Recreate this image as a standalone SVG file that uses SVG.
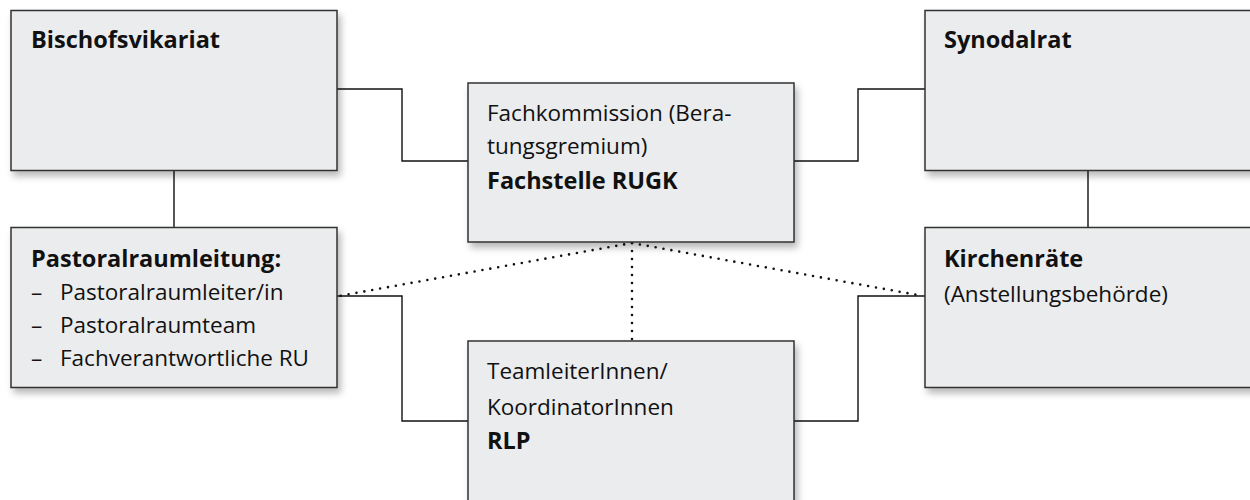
<svg xmlns="http://www.w3.org/2000/svg" width="1250" height="500" viewBox="0 0 1250 500">
<defs>
<filter id="sh" x="-10%" y="-10%" width="130%" height="140%">
<feDropShadow dx="3" dy="5" stdDeviation="3.5" flood-color="#000" flood-opacity="0.28"/>
</filter>
<style>
.box{fill:#ebeced;stroke:#333;stroke-width:1.5;filter:url(#sh)}
.ln{fill:none;stroke:#111;stroke-width:1.4}
.dot{fill:none;stroke:#111;stroke-width:2.6;stroke-dasharray:0 8;stroke-linecap:round}
text{font-family:"Open Sans","Noto Sans",sans-serif;font-size:22.5px;fill:#111}
.b{font-weight:bold;font-size:23.5px}
</style>
</defs>
<rect width="1250" height="500" fill="#fff"/>
<g id="connectors">
<polyline class="ln" points="337,89 402,89 402,161 468,161"/>
<polyline class="ln" points="794,161 858,161 858,89 925,89"/>
<line class="ln" x1="174" y1="170" x2="174" y2="228"/>
<line class="ln" x1="1088" y1="170" x2="1088" y2="228"/>
<polyline class="ln" points="337,296 402,296 402,421 468,421"/>
<polyline class="ln" points="794,421 858,421 858,296 925,296"/>
<line class="dot" x1="632" y1="243" x2="339" y2="296"/>
<line class="dot" x1="632" y1="243" x2="923" y2="296"/>
<line class="dot" x1="632" y1="243" x2="632" y2="340"/>
</g>
<g id="bischofsvikariat">
<rect class="box" x="11" y="10.5" width="326" height="160"/>
<text class="b" x="31" y="48">Bischofsvikariat</text>
</g>
<g id="synodalrat">
<rect class="box" x="925" y="10.5" width="340" height="160"/>
<text class="b" x="944" y="48">Synodalrat</text>
</g>
<g id="fachstelle">
<rect class="box" x="468" y="83" width="326" height="159"/>
<text x="487" y="121">Fachkommission (Bera-</text>
<text x="487" y="154">tungsgremium)</text>
<text class="b" x="487" y="189">Fachstelle RUGK</text>
</g>
<g id="pastoralraumleitung">
<rect class="box" x="11" y="227.5" width="326" height="160"/>
<text class="b" x="31" y="267">Pastoralraumleitung:</text>
<text x="31" y="300">–</text><text x="60" y="300">Pastoralraumleiter/in</text>
<text x="31" y="333">–</text><text x="60" y="333">Pastoralraumteam</text>
<text x="31" y="366">–</text><text x="60" y="366">Fachverantwortliche RU</text>
</g>
<g id="kirchenraete">
<rect class="box" x="925" y="227.5" width="340" height="160"/>
<text class="b" x="944" y="267">Kirchenräte</text>
<text x="944" y="302">(Anstellungsbehörde)</text>
</g>
<g id="rlp">
<rect class="box" x="468" y="341" width="326" height="180"/>
<text x="487" y="379">TeamleiterInnen/</text>
<text x="487" y="415">KoordinatorInnen</text>
<text class="b" x="487" y="449">RLP</text>
</g>
</svg>
